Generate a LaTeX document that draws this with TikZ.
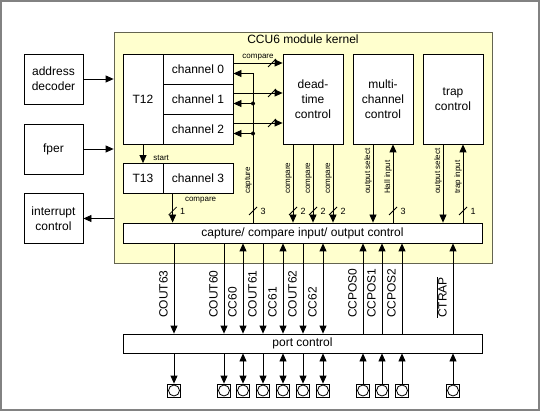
\documentclass[tikz,border=0pt]{standalone}
\usepackage{fontspec}
\setmainfont{Liberation Sans}
\usetikzlibrary{arrows.meta}

\definecolor{KernelFill}{RGB}{255,255,206}
\definecolor{KernelBorder}{RGB}{100,100,80}
\definecolor{FrameGray}{RGB}{130,130,130}

\tikzset{
    >={Triangle[length=8pt,width=7pt]},
    block/.style={draw, fill=white, line width=0.8pt, inner sep=0pt, align=center,
        font=\fontsize{12}{15}\selectfont},
    kernelbox/.style={draw=KernelBorder, fill=KernelFill, line width=0.8pt},
    signal/.style={line width=0.8pt},
    sigout/.style={signal, ->},
    sigin/.style={signal, <-},
    sigboth/.style={signal, <->},
    tinylabel/.style={font=\fontsize{8}{9}\selectfont, inner sep=0pt},
    pinlabel/.style={rotate=90, anchor=base west, inner sep=0pt, font=\fontsize{12}{14}\selectfont},
    innerlabel/.style={rotate=90, anchor=base west, inner sep=0pt, font=\fontsize{8}{9}\selectfont},
    padbox/.style={draw, line width=0.8pt, minimum size=13pt, inner sep=0pt,
        path picture={\draw[line width=0.8pt] (path picture bounding box.center) circle (5.5pt);}},
    pics/slashmark/.style={code={\draw[signal] (-4,4) -- (4,-4);}},
    pics/bus/.style={code={
        \draw[signal] (-4,4) -- (4,-4);
        \node[font=\fontsize{9}{10}\selectfont, inner sep=0pt] at (10,0) {#1};}},
}

\begin{document}
\begin{tikzpicture}[x=1pt, y=-1pt]

    \useasboundingbox (0,0) rectangle (540,411);
    \draw[FrameGray, line width=1.5pt] (1,1) rectangle (539,410);

    \coordinate (labelbase) at (0,194);
    \coordinate (busbase) at (0,211);
    \coordinate (pinbase) at (0,318);

    % kernel
    \node[kernelbox, minimum width=378pt, minimum height=231pt] (kernel) at (303,147.5) {};
    \node[anchor=north, inner sep=0pt, font=\fontsize{12}{14}\selectfont] (title)
        at ([yshift=-3pt]kernel.north) {CCU6 module kernel};

    % blocks outside the kernel
    \node[block, minimum width=59pt, minimum height=50pt] (addr) at (53.5,79) {address\\decoder};
    \node[block, minimum width=59pt, minimum height=50pt] (fper) at (53.5,149) {fper};
    \node[block, minimum width=59pt, minimum height=50pt] (irq) at (53.5,218.5) {interrupt\\control};
    \draw[sigout] (addr.east) -- (addr.east -| kernel.west);
    \draw[sigout] (fper.east) -- (fper.east -| kernel.west);
    \draw[sigin] (irq.east) -- (irq.east -| kernel.west);

    % timers
    \node[block, minimum width=40pt, minimum height=90pt] (t12) at (143,99) {T12};
    \foreach \i in {0,1,2}
        \node[block, minimum width=70pt, minimum height=30pt] (ch\i) at (198,{69+30*\i}) {channel \i};
    \node[block, minimum width=40pt, minimum height=30pt] (t13) at (143,178.5) {T13};
    \node[block, minimum width=70pt, minimum height=30pt] (ch3) at (198,178.5) {channel 3};
    \draw[sigout] (t12.south) -- (t13.north)
        node[tinylabel, anchor=west, pos=0.7, xshift=10pt] {start};

    \node[block, minimum width=60pt, minimum height=90pt] (dead) at (313,99) {dead-\\time\\control};
    \node[block, minimum width=60pt, minimum height=90pt] (multi) at (383,99) {multi-\\channel\\control};
    \node[block, minimum width=60pt, minimum height=90pt] (trap) at (453,99) {trap\\control};

    \node[block, minimum width=359pt, minimum height=20pt] (cc) at (302.5,233)
        {capture/ compare input/ output control};
    \node[block, minimum width=359pt, minimum height=19pt] (port) at (302.5,343.5) {port control};

    % compare channel -> dead-time
    \coordinate (slashcol) at (272,0);
    \foreach \i in {0,1,2} {
        \draw[sigout] ([yshift=6pt]ch\i.east) -- ([yshift=6pt]ch\i.east -| dead.west);
        \pic at ([yshift=6pt]ch\i.east -| slashcol) {slashmark};
    }
    \path ([yshift=6pt]ch0.east) -- ([yshift=6pt]ch0.east -| dead.west)
        node[tinylabel, midway, above=3pt] {compare};

    % capture bus
    \coordinate (capbus) at (253,0);
    \draw[sigout] (cc.north -| capbus) |- ([yshift=-4.5pt]ch0.east);
    \foreach \i in {1,2} {
        \fill ([yshift=-4.5pt]ch\i.east -| capbus) circle (2pt);
        \draw[sigout] ([yshift=-4.5pt]ch\i.east -| capbus) -- ([yshift=-4.5pt]ch\i.east);
    }
    \node[innerlabel] at ([xshift=-3pt]capbus |- labelbase) {capture};
    \pic at (capbus |- busbase) {bus=3};

    % channel 3 compare
    \draw[sigout] ([xshift=10pt]ch3.south west) -- ([xshift=10pt]ch3.south west |- cc.north)
        node[tinylabel, anchor=north west, pos=0, xshift=12pt, yshift=-3pt] {compare};
    \pic at ([xshift=10pt]ch3.south west |- busbase) {bus=1};

    % dead-time outputs
    \foreach \dx in {-20,0,20} {
        \draw[sigout] ([xshift=\dx pt]dead.south) -- ([xshift=\dx pt]dead.south |- cc.north);
        \node[innerlabel] at ([xshift={\dx pt-3pt}]dead.south |- labelbase) {compare};
        \pic at ([xshift=\dx pt]dead.south |- busbase) {bus=2};
    }

    % multi-channel and trap
    \draw[sigout] ([xshift=-10pt]multi.south) -- ([xshift=-10pt]multi.south |- cc.north);
    \node[innerlabel] at ([xshift=-13pt]multi.south |- labelbase) {output select};
    \draw[sigin] ([xshift=10pt]multi.south) -- ([xshift=10pt]multi.south |- cc.north);
    \node[innerlabel] at ([xshift=7pt]multi.south |- labelbase) {Hall input};
    \pic at ([xshift=10pt]multi.south |- busbase) {bus=3};

    \draw[sigout] ([xshift=-10pt]trap.south) -- ([xshift=-10pt]trap.south |- cc.north);
    \node[innerlabel] at ([xshift=-13pt]trap.south |- labelbase) {output select};
    \draw[sigin] ([xshift=10pt]trap.south) -- ([xshift=10pt]trap.south |- cc.north);
    \node[innerlabel] at ([xshift=7pt]trap.south |- labelbase) {trap input};
    \pic at ([xshift=10pt]trap.south |- busbase) {bus=1};

    % port pins
    \foreach \x/\sig/\dir in {174/COUT63/out, 224/COUT60/out, 243/CC60/both, 263/COUT61/out,
        283/CC61/both, 303/COUT62/out, 323/CC62/both, 363/CCPOS0/in, 382/CCPOS1/in, 402/CCPOS2/in} {
        \node[padbox] (pad\sig) at (\x,390.5) {};
        \draw[sig\dir] (cc.south -| pad\sig) -- (port.north -| pad\sig);
        \draw[sig\dir] (port.south -| pad\sig) -- (pad\sig);
        \node[pinlabel] at ([xshift=-6.5pt]pad\sig |- pinbase) {\sig};
    }
    \node[padbox] (padCTRAP) at (453,390.5) {};
    \draw[sigin] (cc.south -| padCTRAP) -- (port.north -| padCTRAP);
    \draw[sigin] (port.south -| padCTRAP) -- (padCTRAP);
    \node[pinlabel] at ([xshift=-6.5pt]padCTRAP |- pinbase) {$\overline{\hbox{CTRAP}}$};

\end{tikzpicture}
\end{document}
